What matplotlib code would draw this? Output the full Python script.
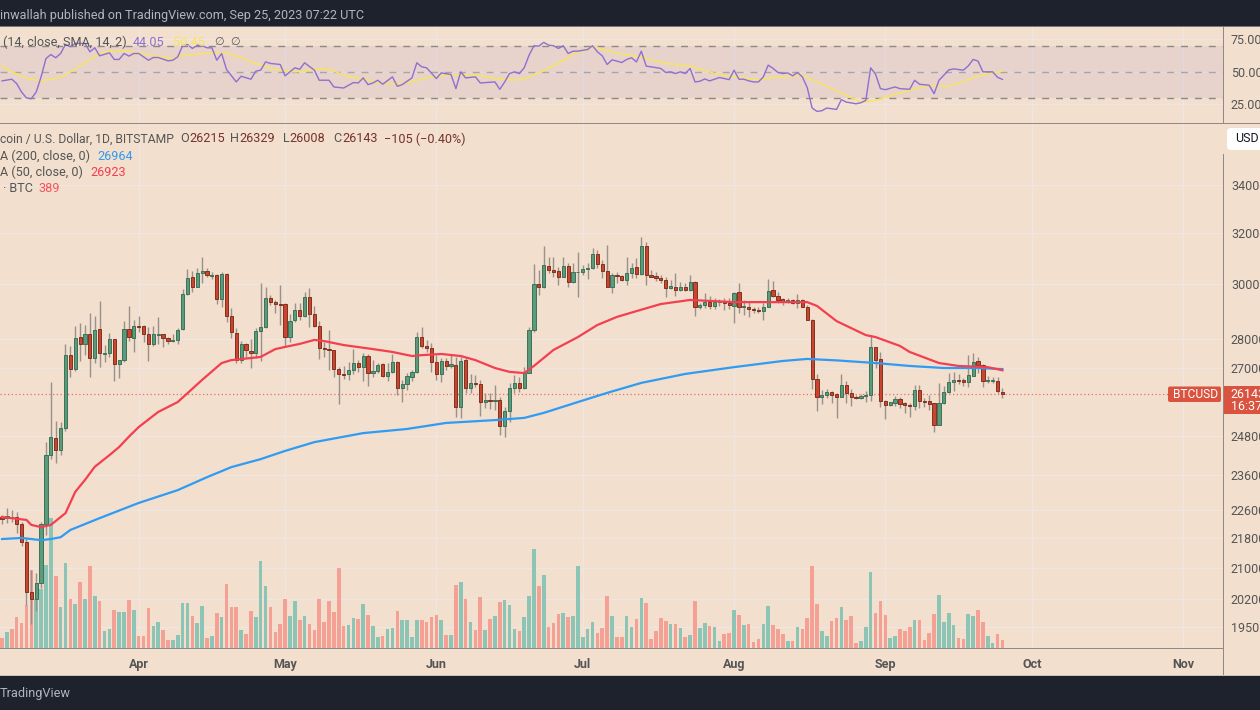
import numpy as np
import matplotlib
matplotlib.use("Agg")
import matplotlib.pyplot as plt
from matplotlib.patches import Rectangle, FancyBboxPatch
from matplotlib.transforms import Affine2D

# day numbers are counted from 2023-04-01
first_day = -28
opens = [22390,22360,22390,22390,22200,21700,20380,20200,20610,22200,
 24200,24730,24360,25040,27440,26970,28070,27830,28180,27340,
 28360,27480,27510,28000,27140,27270,28360,28040,
 28460,28460,28180,27830,28160,28180,28040,27930,27970,28360,
 29630,30270,29890,30420,30500,30310,30350,29440,30380,28820,
 28210,27270,27830,27580,27510,28280,28430,29480,29330,29260,
 29260,28070,28680,29040,28820,29520,28900,28460,27690,27650,
 27620,26970,26800,26800,26930,27170,27030,27410,26830,26900,
 27140,26730,26870,27200,26330,26460,26700,26870,28070,27760,
 27690,27200,26800,27240,27070,27100,25710,27270,26330,26500,
 26460,25870,25940,25900,25940,25100,25580,26330,26500,26330,
 26830,28320,30010,29890,30690,30540,30500,30270,30690,30080,
 30460,30460,30570,30610,31160,30770,30500,29890,30350,30310,
 30160,30420,30650,30380,31470,30350,30310,30230,30160,29860,
 29890,29780,29890,29780,30080,29150,29220,29330,29190,29330,
 29370,29300,29190,29710,29150,29150,29080,29040,29000,29150,
 29780,29560,29440,29370,29410,29300,29410,29150,28680,26630,
 26040,26100,26200,26130,26040,26430,26170,26040,26000,26070,
 26100,27720,27310,25900,25770,25840,25970,25840,25770,25740,
 26260,25900,25900,25840,25130,25840,26200,26530,26600,26600,
 26530,26730,27240,27100,26560,26560,26560,26215]
highs = [22450,22640,22590,22530,22250,21810,20950,20870,22250,24600,
 26530,25260,25230,27830,27760,28460,28570,28500,28930,28820,
 29370,27790,28210,28000,27270,28640,29190,28680,
 28820,28500,28430,28460,28790,28180,28070,28180,28390,29820,
 30570,30500,30610,31040,30610,30460,30380,30460,30420,29110,
 28390,27930,27860,28000,28390,30040,29890,29590,29410,29970,
 29300,28900,29300,29300,29710,29860,29190,28640,27900,28320,
 27620,27030,27070,27200,27650,27270,27510,27480,27270,27170,
 27170,27170,27480,27240,26600,26830,26930,28250,28430,27970,
 27860,27440,27340,27340,27440,27380,27380,27380,26800,26760,
 26600,26170,26170,26430,26040,25710,26500,26760,26700,27030,
 28430,30770,30540,31470,31040,31040,30650,31040,30810,30810,
 31230,30730,30810,31390,31310,30920,31510,30420,30460,30350,
 31040,30810,31000,31830,31630,30540,30460,30350,30270,30160,
 30420,30080,30040,30350,30120,29300,29670,29560,29480,29440,
 29480,29480,29710,30040,29410,29330,29150,29150,29300,30190,
 30120,29710,29480,29480,29440,29630,29440,29220,28710,26800,
 26260,26300,26230,26170,26800,26560,26300,26100,26130,26230,
 28140,27720,27550,25940,25870,26070,26040,25870,25840,26430,
 26430,26000,26100,25840,26500,26400,26830,26870,26800,26660,
 27440,27510,27380,27140,26730,26700,26700,26329]
lows = [22200,22220,22250,21950,21590,20050,19570,19900,20480,21890,
 24080,23960,24200,24950,26700,26900,27240,27440,26700,27170,
 27030,27200,27380,26560,26660,27200,27930,27550,
 28250,27900,27240,27760,27830,27720,27830,27900,27830,28320,
 29590,29710,29890,30040,30270,30190,29260,29150,28610,28040,
 27170,27170,27340,27000,27340,27240,28390,29220,28930,28500,
 27720,27900,28610,28680,28790,28430,28430,27310,27380,26930,
 26700,25810,26630,26600,26800,26870,26560,26400,26700,26830,
 26700,26560,26830,26100,25870,26260,26560,26830,27690,27550,
 26870,26600,26530,26930,27000,25390,25360,26170,26170,26360,
 25420,25680,25650,25610,24820,24760,25230,26170,26200,26300,
 26830,28250,29590,29860,30420,30270,29970,30270,29890,30040,
 29520,30350,30190,30570,30610,30230,29890,29670,30040,30120,
 29970,30230,30230,30350,29970,30270,30120,30040,29520,29820,
 29560,29740,29740,29740,28820,29080,29110,29080,29080,29190,
 29040,29080,28570,28930,28860,28790,28930,28930,28680,29150,
 29520,29300,29220,29300,29260,29110,29150,28680,26300,25580,
 25810,26000,25840,25360,26040,25840,25740,25970,25970,25870,
 25900,27000,25710,25330,25740,25740,25680,25520,25390,25610,
 25680,25710,25610,24910,25130,25810,26170,26230,26460,26400,
 26360,26730,26830,26360,26500,26500,26170,26008]
closes = [22330,22420,22360,22200,21700,20380,20200,20610,22200,24200,
 24760,24360,25040,27440,26970,28040,27830,28180,27340,28320,
 27510,27510,28000,27140,27270,28360,28070,28460,
 28440,28180,27830,28180,28180,28040,27930,27970,28320,29630,
 30230,29890,30420,30500,30350,30350,29440,30380,28820,28250,
 27270,27830,27620,27510,28280,28430,29480,29330,29260,29220,
 28070,28640,29040,28820,29520,28900,28460,27690,27650,27620,
 26970,26800,26760,26930,27170,27030,27410,26830,26900,27100,
 26730,26870,27200,26330,26460,26730,26870,28070,27760,27690,
 27200,26800,27240,27070,27140,25710,27240,26330,26500,26460,
 25870,25940,25900,25940,25100,25580,26330,26500,26330,26830,
 28320,30010,29890,30730,30540,30460,30270,30690,30080,30460,
 30480,30570,30610,31160,30770,30500,29890,30350,30310,30160,
 30420,30610,30380,31470,30350,30270,30230,30160,29860,29930,
 29780,29890,29780,30080,29150,29220,29330,29190,29330,29370,
 29300,29220,29670,29150,29190,29080,29040,29000,29150,29740,
 29560,29410,29370,29410,29300,29410,29150,28680,26630,26040,
 26100,26200,26100,26040,26430,26170,26040,26000,26070,26100,
 27720,27270,25900,25770,25870,25970,25810,25770,25740,26260,
 25900,25870,25810,25130,25840,26200,26530,26600,26560,26530,
 26760,27200,27100,26560,26600,26600,26230,26143]
# volume
volume_read = [31,48,58,93,75,130,233,148,178,250,391,216,122,255,146,131,199,147,247,157,
 140,50,56,113,107,108,145,115,
 35,37,119,66,79,54,23,23,38,135,134,97,76,127,30,35,104,93,191,122,122,53,41,112,94,260,185,122,48,71,
 146,97,141,84,97,73,53,146,79,141,107,240,65,68,91,86,132,100,65,32,35,57,59,110,83,83,33,83,
 85,79,94,100,83,40,40,190,197,148,77,54,152,53,88,95,137,144,128,58,50,92,156,298,187,218,62,74,103,104,
 94,97,245,32,56,78,44,60,155,95,32,33,95,64,88,151,134,26,51,91,82,73,71,61,33,39,140,61,76,67,62,21,41,46,
 115,99,68,71,19,26,73,127,68,56,43,20,20,64,56,91,245,132,52,37,80,89,123,85,97,14,21,62,227,104,140,98,
 30,37,56,50,64,83,83,23,45,101,160,79,104,70,31,27,101,95,113,79,36,15,41,24]
volume_scale = 16.2

sma50_days = [-28,-23,-22,-20,-18,-15,-13,-11,-9,-6,-4,-2,0,4,8,13,17,19,23,25,28,31,33,36,38,42,48,52,56,58,62,66,69,73,76,79,81,85,90,94,98,102,107,113,122,130,137,139,143,149,151,156,158,164,168,174,177]
sma50_vals = [22390,22310,22170,22110,22170,22500,23110,23460,23850,24200,24450,24770,25070,25550,25870,26600,27170,27270,27340,27380,27650,27760,27830,27970,27930,27790,27650,27550,27410,27440,27480,27410,27270,27000,26870,26830,27070,27620,28070,28500,28790,29000,29260,29410,29330,29330,29330,29190,28640,28140,28070,27760,27550,27170,27070,27030,26923]
sma200_days = [-28,-24,-20,-18,-16,-14,-8,0,8,14,19,25,30,36,46,55,63,73,79,83,90,96,103,112,122,132,137,143,151,158,165,172,177]
sma200_vals = [21780,21810,21750,21780,21830,22030,22360,22790,23160,23540,23840,24080,24330,24600,24880,25010,25200,25290,25360,25520,25870,26170,26500,26800,27030,27240,27310,27260,27170,27070,27000,27000,26964]

rsi_days = [-28,-26,-25,-24,-23,-22,-21,-20,-19,-18,-17,-16,-15,-14,-13,-12,-11,-10,-9,-8,-6,-5,-4,-3,-2,-1,0,2,3,4,6,7,8,9,10,11,12,13,14,15,16,17,18,20,21,23,24,25,26,27,29,30,32,33,34,36,37,39,40,42,44,45,46,47,48,49,50,52,53,54,56,57,58,59,61,62,64,65,66,67,69,70,73,74,75,76,77,78,79,80,81,82,83,84,85,86,87,88,89,90,92,93,94,95,96,97,98,99,100,101,102,103,104,106,107,108,109,110,111,112,113,114,115,116,117,118,119,121,122,123,124,125,126,127,128,129,130,131,132,133,134,135,136,137,138,139,140,141,143,144,145,147,148,149,150,151,152,153,155,156,158,159,160,162,163,164,165,166,167,169,170,171,172,173,175,176,177]
rsi_vals = [42.9,44.2,40.8,34.3,29.7,29.1,34.3,46.0,60.2,63.3,60.8,64.1,71.1,69.3,71.9,71.9,71.9,65.4,68.5,62.3,64.6,59.5,59.5,64.1,62.1,64.1,64.1,58.9,61.0,61.0,58.4,58.9,61.5,70.1,71.1,68.0,70.6,70.1,68.5,68.5,58.9,64.1,51.7,42.1,46.5,44.2,50.4,51.2,57.6,56.4,55.6,46.8,53.0,51.9,56.9,51.2,43.4,43.4,38.2,37.4,41.6,41.3,45.2,40.0,41.3,43.4,40.3,46.0,38.7,40.0,45.2,56.9,53.8,53.0,44.7,49.1,47.8,36.9,49.9,45.2,46.0,41.3,42.1,36.4,42.1,48.6,49.9,48.6,53.0,62.8,70.1,69.8,72.7,70.6,70.1,68.0,70.1,64.1,65.9,65.9,67.2,70.1,65.4,62.3,55.6,59.2,58.2,57.1,59.5,60.8,57.6,65.9,54.3,53.2,52.5,49.4,49.9,48.6,49.9,48.6,52.5,42.1,42.6,44.4,42.9,44.2,45.5,43.9,51.2,44.2,44.2,42.9,42.1,42.1,46.0,55.1,52.5,49.4,48.6,49.1,46.8,49.4,46.0,37.7,21.9,19.3,19.8,21.9,20.8,28.4,26.5,25.2,26.0,27.8,53.0,48.1,36.9,36.1,38.2,36.9,36.4,43.4,40.3,39.5,33.0,43.4,47.3,51.4,52.2,51.2,54.5,59.5,58.2,49.9,49.9,45.7,44.05]
signal_days = [-28,-26,-23,-20,-16,-13,-11,-8,-6,-2,2,7,9,15,18,21,24,28,32,36,39,43,46,50,54,59,63,69,74,78,80,82,86,89,93,99,102,108,113,118,122,127,130,136,142,148,151,155,158,162,166,171,173,177]
signal_vals = [54.5,49.9,45.2,42.9,45.7,51.9,57.1,64.1,65.9,65.9,62.8,60.2,62.8,64.6,64.4,61.0,56.4,51.9,49.9,51.9,51.9,46.0,44.7,40.8,40.5,45.2,47.3,47.5,44.2,43.6,46.0,49.1,56.4,63.6,69.3,63.6,62.1,56.4,54.5,48.6,46.0,43.9,45.5,47.3,36.9,26.5,27.8,32.5,35.6,39.5,38.7,45.2,47.8,50.45]

month_days = [0,30,61,91,122,153,183,214]
month_labels = ["Apr","May","Jun","Jul","Aug","Sep","Oct","Nov"]
price_ticks = [34000,32000,30000,28000,27000,24800,23600,22600,21800,21000,20200,19500]
rsi_ticks = [75,50,25]

W, H = 1260, 710
BG = "#f2dfce"; DARK = "#1e222d"; GRID = "#eee6df"; AXC = "#8f8a85"; TXT = "#555555"
plt.rcParams['font.family'] = ['Roboto', 'DejaVu Sans']
fig = plt.figure(figsize=(W/100, H/100), dpi=100, facecolor=BG)
px = Affine2D().scale(1/W, -1/H).translate(0, 1) + fig.transFigure

def rect(x0, ytop, x1, ybot):
    return [x0/W, 1-ybot/H, (x1-x0)/W, (ybot-ytop)/H]

xlim = (-28.42, 222.2)
days = np.arange(first_day, first_day+len(closes))
o, h, l, c = map(np.array, (opens, highs, lows, closes))
up = c >= o
vol = np.array(volume_read)*volume_scale

# RSI pane
ar = fig.add_axes(rect(0, 27, 1223, 122.5), facecolor=BG)
ar.set_xlim(*xlim); ar.set_ylim(10.7, 84.6)
ar.axhspan(30, 70, color="#7e57c2", alpha=0.09, lw=0, zorder=1)
ar.set_xticks(month_days); ar.set_xticklabels([]); ar.set_yticks(rsi_ticks)
ar.grid(True, color=GRID, lw=1.0, zorder=0); ar.set_axisbelow(True)
for lev, col in ((70, "#8b8a88"), (50, "#a9a5a3"), (30, "#8b8a88")):
    ar.axhline(lev, color=col, lw=1.0, dashes=(5, 5), zorder=2)
ar.plot(signal_days, signal_vals, color="#f7e463", lw=1.1, zorder=3)
ar.plot(rsi_days, rsi_vals, color="#8f6fd0", lw=1.0, zorder=4)
ar.yaxis.tick_right()
ar.set_yticklabels([f"{t:.2f}" for t in rsi_ticks])
ar.tick_params(axis='y', length=0, pad=5.7, labelsize=9, labelcolor=TXT)
ar.tick_params(axis='x', length=0)
for s in ar.spines.values(): s.set_visible(False)

# price pane layers
ylim = (18994, 36685)
mrect = rect(0, 124, 1223, 648)
ag = fig.add_axes(mrect, facecolor=BG, zorder=0)
ag.set_yscale('log'); ag.set_xlim(*xlim); ag.set_ylim(*ylim)
ag.set_yticks(price_ticks); ag.minorticks_off()
ag.yaxis.tick_right()
ag.set_yticklabels([str(t) for t in price_ticks])
ag.set_xticks(month_days); ag.set_xticklabels(month_labels, fontweight='bold')
ag.grid(True, color=GRID, lw=1.0)
ag.tick_params(axis='y', length=0, pad=5.7, labelsize=9, labelcolor=TXT)
ag.tick_params(axis='x', length=0, pad=7.5, labelsize=9, labelcolor=TXT)
for s in ag.spines.values(): s.set_visible(False)

av = fig.add_axes(mrect, zorder=1); av.patch.set_visible(False)
av.set_xlim(*xlim); av.set_ylim(0, 524*3*volume_scale); av.axis('off')
av.bar(days, vol, width=0.74, color=np.where(up, "#8cc4b5", "#f5a095"), lw=0)

am = fig.add_axes(mrect, zorder=2, sharex=ag); am.patch.set_visible(False)
am.set_yscale('log'); am.set_ylim(*ylim); am.axis('off')
am.vlines(days, l, h, color="#98928a", lw=1.0, zorder=2)
am.bar(days, np.maximum(np.abs(c-o), 15), bottom=np.minimum(o, c), width=0.66,
       color=np.where(up, "#5b9a7a", "#c8452f"),
       edgecolor=np.where(up, "#3a7358", "#84301f"), lw=0.7, zorder=3)
am.plot(sma200_days, sma200_vals, color="#2f9bf2", lw=1.6, zorder=4)
am.plot(sma50_days, sma50_vals, color="#f43f50", lw=1.6, zorder=5)
am.plot(xlim, [closes[-1]]*2, color="#e8705f", lw=0.9, ls=(0, (1, 2)), zorder=2)
am.set_xlim(*xlim)

def box(x0, y0, x1, y1, color, z=6, **kw):
    fig.add_artist(Rectangle((x0, y0), x1-x0, y1-y0, transform=px, facecolor=color, edgecolor='none', zorder=z, **kw))

def txt(x, y, s, color=TXT, size=12.6, **kw):
    kw.setdefault('va', 'center'); kw.setdefault('ha', 'left')
    fig.text(x, y, s, transform=px, color=color, fontsize=size*0.72, zorder=10, **kw)

# frame
box(0, 0, W, 26, DARK)
box(0, 675.5, W, H, DARK)
box(0, 26, W, 27, "#77797f")
box(0, 122.5, W, 124, AXC)
box(0, 674.5, W, 675.5, "#c9c0b8")
box(0, 647.5, 1223, 648.7, AXC)
box(1222.5, 27, 1223.7, 122.5, AXC)
box(1222.5, 154, 1223.7, 675, AXC)

# header / footer
txt(0, 15.5, "inwallah published on TradingView.com, Sep 25, 2023 07:22 UTC", color="#b2b5be", size=12.6)
txt(0, 693.5, "TradingView", color="#b2b5be", size=12.7)

# RSI legend
txt(3, 42, "(14, close, SMA, 14, 2)")
txt(133, 42, "44.05", color="#8f6fd0")
txt(173, 42, "50.45", color="#f7e463")
txt(214, 42, "\u2205", size=11); txt(230, 42, "\u2205", size=11)

# main legend
VAL = "#75332a"
txt(0, 139, "coin / U.S. Dollar, 1D, BITSTAMP", size=12.1)
for x, s, col in [(180, "O", TXT), (189, "26215", VAL), (230, "H", TXT), (239, "26329", VAL),
                  (283, "L", TXT), (289, "26008", VAL), (333, "C", TXT), (342, "26143", VAL),
                  (384, "\u2212105 (\u22120.40%)", VAL)]:
    txt(x, 139, s, color=col)
txt(0, 156, "A (200, close, 0)"); txt(97, 156, "26964", color="#2f9bf2")
txt(0, 172.5, "A (50, close, 0)"); txt(90, 172.5, "26923", color="#f43f50")
txt(3, 189, "\u00b7 BTC"); txt(38, 189, "389", color="#f7525f")

# right labels
fig.add_artist(FancyBboxPatch((1227, 128), 40, 22, boxstyle="round,pad=0,rounding_size=4", transform=px,
                              facecolor="white", edgecolor='none', zorder=8))
txt(1235, 139, "USD", color="#131722", size=12.5)
fig.add_artist(FancyBboxPatch((1168, 386.5), 53, 15.5, boxstyle="round,pad=0,rounding_size=2", transform=px,
                              facecolor="#d9533f", edgecolor='none', zorder=8))
txt(1173, 394.5, "BTCUSD", color="#ffffff", size=12)
box(1223.5, 386, W, 414, "#d9533f", z=8)
txt(1230.5, 394, f"{closes[-1]}", color="#ffffff", size=12.5)
txt(1230.5, 407, "16:37:00", color="#ffffff", size=12.5)

fig.savefig("out.png", dpi=100, facecolor=BG)
